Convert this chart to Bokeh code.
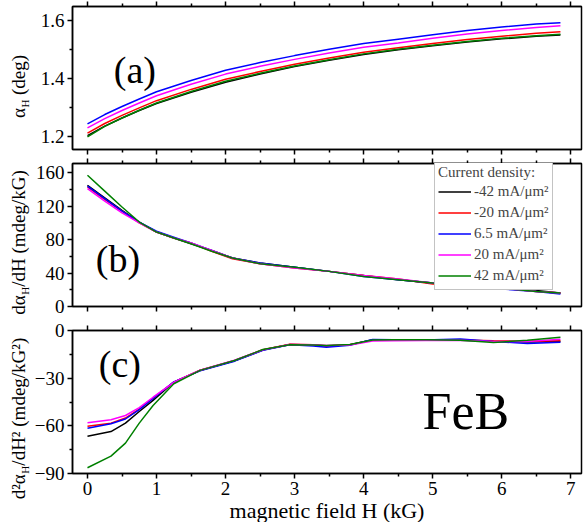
from math import pi
from bokeh.plotting import figure
from bokeh.models import Range1d, LinearAxis, Label, Legend, LegendItem, FixedTicker
from bokeh.layouts import column, row
from bokeh.embed import file_html
from bokeh.resources import INLINE

FONT = "Liberation Serif"

# ---------------- data ----------------
series_labels = ["-42 mA/μm²", "-20 mA/μm²", "6.5 mA/μm²", "20 mA/μm²", "42 mA/μm²"]
series_colors = ["#000000", "#FF0000", "#0000FF", "#FF00FF", "#008000"]

# panel (a): alpha_H (deg)
xa = [0, 0.25, 0.5, 0.75, 1.0, 1.5, 2.0, 2.5, 3.0, 3.5, 4.0, 4.5, 5.0, 5.5, 6.0, 6.5, 6.85]
a_m42 = [1.203, 1.236, 1.264, 1.290, 1.314, 1.353, 1.388, 1.416, 1.442, 1.464, 1.484, 1.500, 1.514, 1.527, 1.538, 1.547, 1.551]
a_m20 = [1.212, 1.245, 1.273, 1.299, 1.324, 1.363, 1.398, 1.425, 1.450, 1.472, 1.492, 1.507, 1.522, 1.536, 1.547, 1.557, 1.563]
a_p65 = [1.244, 1.276, 1.304, 1.330, 1.355, 1.394, 1.429, 1.456, 1.480, 1.502, 1.522, 1.537, 1.552, 1.567, 1.579, 1.589, 1.594]
a_p20 = [1.230, 1.262, 1.290, 1.316, 1.341, 1.381, 1.416, 1.443, 1.467, 1.489, 1.509, 1.524, 1.540, 1.555, 1.567, 1.577, 1.583]
a_p42 = [1.199, 1.235, 1.264, 1.291, 1.316, 1.356, 1.391, 1.419, 1.444, 1.466, 1.486, 1.502, 1.516, 1.529, 1.540, 1.549, 1.554]

# panel (b): d alpha_H / dH (mdeg/kG)
xb = [0, 0.25, 0.5, 0.75, 1.0, 1.25, 1.5, 1.8, 2.1, 2.5, 3.0, 3.5, 4.0, 4.5, 5.0, 5.5, 6.0, 6.5, 6.85]
b_m42 = [145, 130, 115, 101, 89, 82, 75, 67, 58, 52, 47, 42, 37, 32, 28, 25, 22, 19, 16]
b_m20 = [143, 128, 114, 100, 89, 82, 76, 66, 57, 51, 46, 42, 37, 33, 27, 25, 22, 18, 16]
b_p65 = [144, 129, 114, 101, 90, 83, 76, 67, 58, 52, 47, 42, 36, 32, 28, 24, 21, 18, 15]
b_p20 = [141, 126, 112, 100, 89, 82, 76, 67, 58, 51, 46, 42, 37, 33, 28, 25, 22, 18, 16]
b_p42 = [157, 138, 119, 101, 89, 82, 75, 66, 58, 51, 47, 42, 36, 32, 28, 25, 22, 18, 16]

# panel (c): d2 alpha_H / dH2 (mdeg/kG2)
xc = [0, 0.34, 0.55, 0.75, 0.95, 1.25, 1.63, 2.13, 2.54, 2.93, 3.27, 3.46, 3.8, 4.13, 4.43, 4.9, 5.4, 5.88, 6.37, 6.85]
c_m42 = [-66.5, -63.6, -58.3, -51.0, -44.0, -32.5, -25.2, -19.0, -12.3, -8.8, -9.2, -9.8, -9.0, -5.8, -6.0, -6.0, -6.2, -6.8, -7.2, -7.0]
c_m20 = [-60.2, -58.3, -55.1, -49.5, -42.5, -32.5, -25.0, -18.8, -12.1, -8.6, -9.0, -9.6, -9.0, -6.2, -6.0, -6.1, -6.0, -6.5, -6.8, -6.5]
c_p65 = [-61.5, -58.7, -55.7, -49.8, -42.8, -32.3, -25.4, -19.3, -12.5, -9.0, -9.8, -10.6, -9.3, -5.6, -5.9, -6.0, -5.3, -6.9, -8.2, -7.4]
c_p20 = [-58.1, -56.2, -53.5, -48.5, -42.0, -32.6, -25.0, -18.7, -12.2, -8.8, -9.0, -9.4, -9.2, -6.6, -6.4, -6.3, -6.2, -6.9, -7.0, -5.5]
c_p42 = [-86.4, -79.1, -70.9, -58.3, -47.2, -33.5, -25.1, -18.9, -12.0, -8.9, -9.1, -9.5, -8.8, -6.0, -5.8, -5.9, -6.1, -7.5, -6.2, -4.2]

x_ticks = [0, 1, 2, 3, 4, 5, 6, 7]
x_minor = [-0.5, 0.5, 1.5, 2.5, 3.5, 4.5, 5.5, 6.5, 7.5]
a_ticks = [1.2, 1.4, 1.6]
a_minor = [1.1, 1.3, 1.5, 1.7]
b_ticks = [0, 40, 80, 120, 160]
b_minor = [20, 60, 100, 140, 180]
c_ticks = [-90, -60, -30, 0]
c_minor = [-75, -45, -15]

X_RANGE = (-0.217, 7.155)
A_RANGE = (1.155, 1.65)
B_RANGE = (0, 171)
C_RANGE = (-90, 0)

FW, FH = 509, 143
LABW = 31          # width of the strip that holds the rotated y titles
LEFT = 72 - LABW   # border left of each frame
MID = 0.3375       # baseline -> middle offset of Liberation Serif, in em


def style_axis(ax, ticks, minor, show_labels, tick_out=5, standoff=3):
    ax.ticker = FixedTicker(ticks=ticks, minor_ticks=minor)
    ax.major_tick_in = 0
    ax.major_tick_out = tick_out
    ax.minor_tick_in = 0
    ax.minor_tick_out = 3
    ax.axis_line_width = 1.5
    ax.major_tick_line_width = 1.5
    ax.minor_tick_line_width = 1.5
    ax.axis_line_color = "black"
    ax.major_tick_line_color = "black"
    ax.minor_tick_line_color = "black"
    ax.major_label_text_font = FONT
    ax.major_label_standoff = standoff
    if show_labels:
        ax.major_label_text_font_size = "19px"
        ax.major_label_text_color = "black"
    else:
        ax.major_label_text_font_size = "0px"
        ax.major_label_text_color = None
        ax.major_label_standoff = 0


def make_fig(yr, yt, ym, top, bottom, xlabels):
    p = figure(frame_width=FW, frame_height=FH,
               x_range=Range1d(*X_RANGE), y_range=Range1d(*yr),
               output_backend="svg", toolbar_location=None,
               min_border_left=LEFT, min_border_right=5,
               min_border_top=top, min_border_bottom=bottom)
    p.grid.visible = False
    p.outline_line_color = "black"
    p.outline_line_width = 1.5
    bottom_ax = p.xaxis[0]
    style_axis(bottom_ax, x_ticks, x_minor, xlabels)
    style_axis(p.yaxis[0], yt, ym, True)
    top_ax = LinearAxis()
    style_axis(top_ax, x_ticks, x_minor, False)
    p.add_layout(top_ax, "above")
    return p, bottom_ax


def label_strip(fig_h, fig_top, pieces, center_y, base_x=24.5):
    """Narrow figure holding a rotated, multi-size y title.
    pieces: (text, font px, baseline shift px, advance px); positions in page px."""
    s = figure(frame_width=LABW, frame_height=fig_h,
               x_range=Range1d(0, LABW), y_range=Range1d(0, fig_h),
               output_backend="svg", toolbar_location=None,
               x_axis_location=None, y_axis_location=None,
               min_border=0, min_border_left=0, min_border_right=0,
               min_border_top=0, min_border_bottom=0)
    s.grid.visible = False
    s.outline_line_color = None
    total = sum(pc[3] for pc in pieces)
    pos = center_y + total / 2.0
    for text, size, dx, adv in pieces:
        ax_x = base_x + dx - MID * size   # glyph tops point left
        s.add_layout(Label(x=ax_x, y=fig_h - (pos - fig_top), text=text,
                           angle=pi / 2, text_font=FONT, text_font_size=f"{size}px",
                           text_align="left", text_baseline="middle",
                           text_color="black"))
        pos -= adv
    return s


def panel_label(p, x, y, text, size_px, ppu):
    # y is the wanted baseline; anchor at the middle of the text box
    p.add_layout(Label(x=x, y=y + MID * size_px / ppu, text=text, text_font=FONT,
                       text_font_size=f"{size_px}px", text_align="left",
                       text_baseline="middle", text_color="black"))


# ---------------- panel (a) ----------------
A_TOP, A_BOT = 6, 7
pa, _ = make_fig(A_RANGE, a_ticks, a_minor, A_TOP, A_BOT, False)
for ys, c in zip([a_m42, a_m20, a_p65, a_p20, a_p42], series_colors):
    pa.line(xa, ys, line_color=c, line_width=1.5)
panel_label(pa, 0.381, 1.386, "(a)", 38, FH / (A_RANGE[1] - A_RANGE[0]))
ha = A_TOP + FH + A_BOT
sa = label_strip(ha, 0, [("α", 19, 0, 10.5), ("H", 11, 4, 12.5), ("(deg)", 19, 0, 40.1)], 80)

# ---------------- panel (b) ----------------
B_TOP, B_BOT = 7, 11
pb, _ = make_fig(B_RANGE, b_ticks, b_minor, B_TOP, B_BOT, False)
rends = []
for ys, c in zip([b_m42, b_m20, b_p65, b_p20, b_p42], series_colors):
    rends.append(pb.line(xb, ys, line_color=c, line_width=1.5))
panel_label(pb, 0.12, 41.2, "(b)", 38, FH / (B_RANGE[1] - B_RANGE[0]))
hb = B_TOP + FH + B_BOT
sb = label_strip(hb, ha, [("dα", 19, 0, 20.0), ("H", 11, 4, 8.0), ("/dH (mdeg/kG)", 19, 0, 116.6)], 235)

legend = Legend(items=[LegendItem(label=l, renderers=[r]) for l, r in zip(series_labels, rends)],
                title="Current density:", location=(362, 16))
legend.title_text_font = FONT
legend.title_text_font_size = "15px"
legend.title_text_font_style = "normal"
legend.title_standoff = 0
legend.label_text_font = FONT
legend.label_text_font_size = "15px"
legend.glyph_width = 33
legend.glyph_height = 21
legend.label_height = 21
legend.label_standoff = 3
legend.spacing = 0
legend.padding = 3
legend.margin = 0
legend.border_line_color = "#888888"
legend.border_line_width = 1.5
legend.background_fill_color = "white"
legend.background_fill_alpha = 1.0
pb.add_layout(legend, "center")

# ---------------- panel (c) ----------------
C_TOP, C_BOT = 13, 48
pc, pc_bottom = make_fig(C_RANGE, c_ticks, c_minor, C_TOP, C_BOT, True)
for ys, c in zip([c_m42, c_m20, c_p65, c_p20, c_p42], series_colors):
    pc.line(xc, ys, line_color=c, line_width=1.5)
c_ppu = FH / (C_RANGE[1] - C_RANGE[0])
panel_label(pc, 0.164, -29.4, "(c)", 38, c_ppu)
panel_label(pc, 4.852, -61.9, "FeB", 52, c_ppu)
pc_bottom.axis_label = "magnetic field H (kG)"
pc_bottom.axis_label_text_font = FONT
pc_bottom.axis_label_text_font_size = "22px"
pc_bottom.axis_label_text_font_style = "normal"
pc_bottom.axis_label_text_color = "black"
pc_bottom.axis_label_standoff = 0
hc = C_TOP + FH + C_BOT
sc = label_strip(hc, ha + hb, [("d²α", 19, 0, 25.7), ("H", 11, 4, 8.0), ("/dH² (mdeg/kG²)", 19, 0, 128.0)], 405)

layout = column(row(sa, pa), row(sb, pb), row(sc, pc))
open("out.html", "w").write(file_html(layout, INLINE))
